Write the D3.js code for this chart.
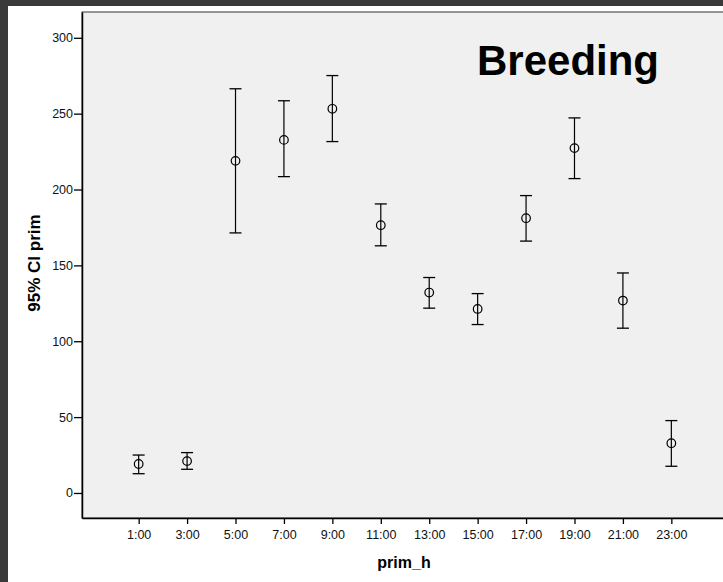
<!DOCTYPE html>
<html>
<head>
<meta charset="utf-8">
<script src="https://cdn.jsdelivr.net/npm/d3@7"></script>
<style>
  body { margin: 0; background: #3a3a3a; overflow: hidden; }
  text { font-family: "Liberation Sans", Arial, sans-serif; }
</style>
</head>
<body>
<script>
var width = 723;
var height = 582;

// data
var hours = ["1:00","3:00","5:00","7:00","9:00","11:00","13:00","15:00","17:00","19:00","21:00","23:00"];
var means = [19.1, 21.0, 218.9, 232.7, 253.2, 176.5, 132.1, 121.3, 181.1, 227.3, 126.8, 32.8];
var lower = [12.7, 15.6, 171.4, 208.5, 231.6, 162.9, 121.8, 111.0, 166.0, 207.2, 108.6, 17.6];
var upper = [25.0, 26.6, 266.4, 258.5, 275.1, 190.5, 142.0, 131.4, 196.0, 247.2, 145.0, 47.7];
var yTicks = [0, 50, 100, 150, 200, 250, 300];

var rows = hours.map(function(h, i) {
  return {h: h, m: means[i], lo: lower[i], hi: upper[i]};
});

var plot = {left: 82, top: 12, right: 728, bottom: 518};

var svg = d3.select("body")
  .append("svg")
  .attr("width", width)
  .attr("height", height);

// white sheet inside dark frame
svg.append("rect")
  .attr("x", 8).attr("y", 6)
  .attr("width", width - 8).attr("height", height - 6)
  .attr("fill", "#ffffff");

var x = d3.scalePoint()
  .domain(hours)
  .range([plot.left, plot.right])
  .padding(1.17);

var y = d3.scaleLinear()
  .domain([-16.5, 317])
  .range([plot.bottom, plot.top]);

// plot area
svg.append("rect")
  .attr("x", plot.left).attr("y", plot.top)
  .attr("width", plot.right - plot.left)
  .attr("height", plot.bottom - plot.top)
  .attr("fill", "#f0f0f0")
  .attr("stroke", "#333")
  .attr("stroke-width", 1);

// axes
var yAxis = svg.append("g")
  .attr("transform", "translate(" + plot.left + ",0)")
  .call(d3.axisLeft(y).tickValues(yTicks).tickSize(8).tickPadding(1).tickSizeOuter(0));

var xAxis = svg.append("g")
  .attr("transform", "translate(0," + plot.bottom + ")")
  .call(d3.axisBottom(x).tickSize(6).tickPadding(6).tickSizeOuter(0));

[yAxis, xAxis].forEach(function(a) {
  a.select(".domain").attr("stroke", "#000").attr("stroke-width", 1.5);
  a.selectAll(".tick line").attr("stroke", "#000").attr("stroke-width", 1.3);
  a.selectAll(".tick text")
    .attr("fill", "#111")
    .style("font-size", "12.5px")
    .style("font-family", "Liberation Sans, Arial, sans-serif");
});

// error bars
var capW = 6;
var bars = svg.append("g")
  .selectAll("g")
  .data(rows)
  .enter()
  .append("g");

bars.append("line")
  .attr("x1", d => x(d.h)).attr("x2", d => x(d.h))
  .attr("y1", d => y(d.hi)).attr("y2", d => y(d.lo))
  .attr("stroke", "#000").attr("stroke-width", 1.2);

bars.append("line")
  .attr("x1", d => x(d.h) - capW).attr("x2", d => x(d.h) + capW)
  .attr("y1", d => y(d.hi)).attr("y2", d => y(d.hi))
  .attr("stroke", "#000").attr("stroke-width", 1.3);

bars.append("line")
  .attr("x1", d => x(d.h) - capW).attr("x2", d => x(d.h) + capW)
  .attr("y1", d => y(d.lo)).attr("y2", d => y(d.lo))
  .attr("stroke", "#000").attr("stroke-width", 1.3);

bars.append("circle")
  .attr("cx", d => x(d.h))
  .attr("cy", d => y(d.m))
  .attr("r", 4.3)
  .attr("fill", "none")
  .attr("stroke", "#000")
  .attr("stroke-width", 1.2);

// titles
svg.append("text")
  .attr("x", 568).attr("y", 75)
  .attr("text-anchor", "middle")
  .attr("font-weight", "bold")
  .attr("font-size", 42)
  .text("Breeding");

svg.append("text")
  .attr("x", 404).attr("y", 568)
  .attr("text-anchor", "middle")
  .attr("font-weight", "bold")
  .attr("font-size", 16)
  .text("prim_h");

svg.append("text")
  .attr("transform", "translate(40,263)rotate(-90)")
  .attr("text-anchor", "middle")
  .attr("font-weight", "bold")
  .attr("font-size", 17)
  .text("95% CI prim");
</script>
</body>
</html>
